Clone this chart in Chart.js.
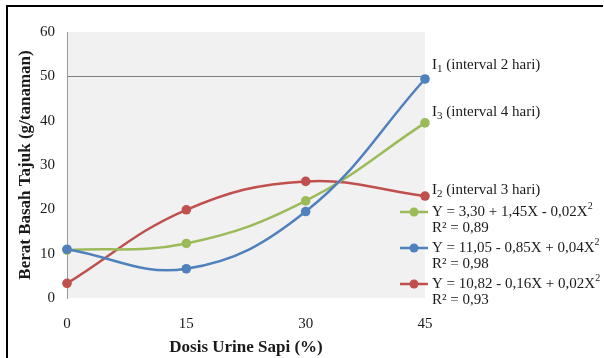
<!DOCTYPE html>
<html>
<head>
<meta charset="utf-8">
<script src="https://cdn.jsdelivr.net/npm/chart.js@4/dist/chart.umd.min.js"></script>
<style>
  html, body { margin: 0; padding: 0; background: #fff; }
  #wrap { width: 604px; height: 358px; position: relative; }
</style>
</head>
<body>
<div id="wrap"><canvas id="c" width="604" height="358"></canvas></div>
<script>
// Dosis urine sapi (%) on the x axis
const doses = ['0', '15', '30', '45'];

// Berat basah tajuk (g/tanaman) per watering interval
const interval2 = [11.0, 6.6, 19.5, 49.4];   // I1 – interval 2 hari
const interval3 = [3.3, 19.9, 26.3, 23.0];   // I2 – interval 3 hari
const interval4 = [10.8, 12.3, 21.9, 39.5];  // I3 – interval 4 hari

const seriesColors = { i1: '#4f81bd', i2: '#c0504d', i3: '#9bbb59' };

// Regression equations shown in the legend
const equations = [
  { key: 'i3', eq: 'Y = 3,30 + 1,45X - 0,02X', r2: 'R² = 0,89' },
  { key: 'i1', eq: 'Y = 11,05 - 0,85X + 0,04X', r2: 'R² = 0,98' },
  { key: 'i2', eq: 'Y = 10,82 - 0,16X + 0,02X', r2: 'R² = 0,93' }
];

// End-of-line labels: [main, subscript, rest]
const endLabels = {
  i1: ['I', '1', ' (interval 2 hari)'],
  i3: ['I', '3', ' (interval 4 hari)'],
  i2: ['I', '2', ' (interval 3 hari)']
};

const SERIF = '"Liberation Serif", "Times New Roman", serif';
const TEXT = '#1a1a1a';

const frameAndBackground = {
  id: 'frameAndBackground',
  beforeDraw(chart) {
    const { ctx, chartArea: a } = chart;
    ctx.save();
    ctx.fillStyle = '#ffffff';
    ctx.fillRect(0, 0, chart.width, chart.height);
    ctx.fillStyle = '#f1f1f1';
    ctx.fillRect(a.left, a.top, a.right - a.left, a.bottom - a.top);
    // outer frame (top and left edges)
    ctx.strokeStyle = '#000';
    ctx.lineWidth = 2;
    ctx.beginPath();
    ctx.moveTo(7, chart.height);
    ctx.lineTo(7, 6);
    ctx.lineTo(chart.width - 1, 6);
    ctx.stroke();
    ctx.restore();
  }
};

function drawSubText(ctx, x, y, parts, size) {
  ctx.font = size + 'px ' + SERIF;
  ctx.fillText(parts[0], x, y);
  x += ctx.measureText(parts[0]).width;
  ctx.font = Math.round(size * 0.7) + 'px ' + SERIF;
  ctx.fillText(parts[1], x, y + 4);
  x += ctx.measureText(parts[1]).width;
  ctx.font = size + 'px ' + SERIF;
  ctx.fillText(parts[2], x, y);
}

const annotations = {
  id: 'annotations',
  afterDraw(chart) {
    const { ctx } = chart;
    const xs = chart.scales.x, ys = chart.scales.y;
    ctx.save();
    ctx.fillStyle = TEXT;
    ctx.textBaseline = 'middle';
    ctx.textAlign = 'left';

    // labels next to the last point of each line
    const lastX = xs.getPixelForValue(doses.length - 1);
    const endPos = {
      i1: ys.getPixelForValue(interval2[3]) - 14,
      i3: ys.getPixelForValue(interval4[3]) - 11,
      i2: ys.getPixelForValue(interval3[3]) - 6
    };
    for (const k of ['i1', 'i3', 'i2']) {
      drawSubText(ctx, lastX + 7, endPos[k], endLabels[k], 15);
    }

    // legend with regression equations
    const rowY = [212, 248, 284];
    equations.forEach((e, i) => {
      const y = rowY[i];
      const col = seriesColors[e.key];
      ctx.strokeStyle = col;
      ctx.lineWidth = 2.5;
      ctx.beginPath();
      ctx.moveTo(400, y);
      ctx.lineTo(428, y);
      ctx.stroke();
      ctx.fillStyle = col;
      ctx.beginPath();
      ctx.arc(414, y, 4.5, 0, Math.PI * 2);
      ctx.fill();

      ctx.fillStyle = TEXT;
      ctx.font = '15px ' + SERIF;
      ctx.fillText(e.eq, 432, y);
      const w = ctx.measureText(e.eq).width;
      ctx.font = '10px ' + SERIF;
      ctx.fillText('2', 432 + w, y - 6);
      ctx.font = '15px ' + SERIF;
      ctx.fillText(e.r2, 432, y + 16);
    });
    ctx.restore();
  }
};

function lineDataset(label, data, color) {
  return {
    label, data,
    borderColor: color,
    backgroundColor: color,
    borderWidth: 2.5,
    pointRadius: 4.8,
    pointHoverRadius: 4.8,
    pointBorderWidth: 0,
    tension: 0.4,
    fill: false,
    clip: false
  };
}

new Chart(document.getElementById('c'), {
  type: 'line',
  data: {
    labels: doses,
    datasets: [
      lineDataset('I1 (interval 2 hari)', interval2, seriesColors.i1),
      lineDataset('I3 (interval 4 hari)', interval4, seriesColors.i3),
      lineDataset('I2 (interval 3 hari)', interval3, seriesColors.i2)
    ]
  },
  options: {
    responsive: false,
    animation: false,
    devicePixelRatio: 1,
    layout: { padding: { left: 10, top: 32, right: 179, bottom: 0 } },
    plugins: { legend: { display: false }, tooltip: { enabled: false } },
    scales: {
      x: {
        offset: false,
        grid: { display: false, drawTicks: false },
        border: { display: false },
        ticks: { color: TEXT, font: { family: SERIF, size: 15 }, padding: 17, maxRotation: 0 },
        title: {
          display: true, text: 'Dosis Urine Sapi (%)', color: TEXT,
          font: { family: SERIF, size: 17, weight: 'bold' }, padding: { top: 0, bottom: 0 }
        },
        afterFit(s) { s.height = 60; }
      },
      y: {
        min: 0, max: 60,
        ticks: { stepSize: 10, color: TEXT, font: { family: SERIF, size: 15 }, padding: 12 },
        grid: {
          drawTicks: false,
          color: ctx => (ctx.tick && ctx.tick.value === 50 ? '#7f7f7f' : 'rgba(0,0,0,0)'),
          lineWidth: 1
        },
        border: { display: true, color: '#9a9a9a', width: 1 },
        title: {
          display: true, text: 'Berat Basah Tajuk (g/tanaman)', color: TEXT,
          font: { family: SERIF, size: 17, weight: 'bold' }, padding: { top: 5, bottom: 0 }
        },
        afterFit(s) { s.width = 57; }
      }
    }
  },
  plugins: [frameAndBackground, annotations]
});
</script>
</body>
</html>
